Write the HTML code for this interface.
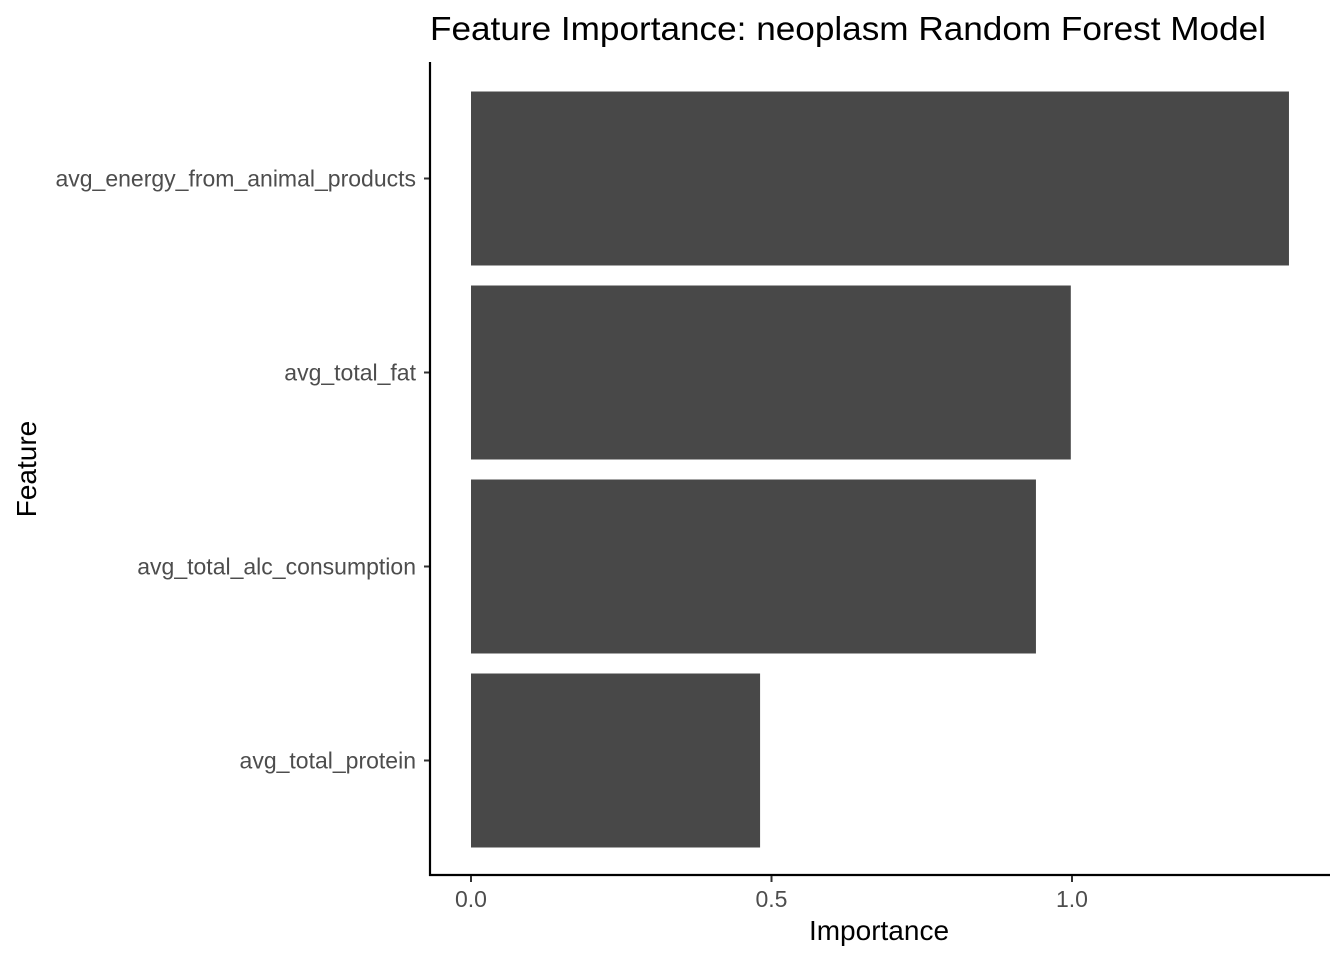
<!DOCTYPE html>
<html><head><meta charset="utf-8"><style>
html,body{margin:0;padding:0;background:#fff;}
svg{display:block;font-family:"Liberation Sans",Arial,sans-serif;}
</style></head><body>
<svg id="chart" width="1344" height="960" viewBox="0 0 1344 960">
<text x="430" y="40" font-size="33" textLength="836" lengthAdjust="spacingAndGlyphs" fill="#000">Feature Importance: neoplasm Random Forest Model</text>
<g id="bars"></g>
<g id="yaxis"></g>
<g id="xaxis"></g>
<text x="879" y="940" font-size="28" text-anchor="middle" fill="#000">Importance</text>
<text transform="translate(36,469) rotate(-90)" font-size="28" text-anchor="middle" fill="#000">Feature</text>
</svg>
<script>
const categories = ["avg_energy_from_animal_products","avg_total_fat","avg_total_alc_consumption","avg_total_protein"];
const importance = [1.361, 0.998, 0.940, 0.481];
const xTicks = [0, 0.5, 1.0];
const xTickLabels = ["0.0","0.5","1.0"];

const NS="http://www.w3.org/2000/svg";
const x0=471, xPerUnit=601;
const xs=v=>x0+v*xPerUnit;
const bandTop=81.5, band=194, barW=174;
const yc=i=>bandTop+band*i+band/2;
function mk(tag,attrs,parent){const e=document.createElementNS(NS,tag);for(const k in attrs)e.setAttribute(k,attrs[k]);parent.appendChild(e);return e;}
const gb=document.getElementById('bars'),gy=document.getElementById('yaxis'),gx=document.getElementById('xaxis');
categories.forEach((c,i)=>{
  const r=mk('rect',{x:xs(0),y:yc(i)-barW/2,width:xs(importance[i])-xs(0),height:barW,fill:'#484848'},gb);
  
  
  const t=mk('line',{x1:424,x2:430,y1:yc(i),y2:yc(i),stroke:'#333','stroke-width':2},gy);
  
  
  const l=mk('text',{x:416,y:yc(i)+8,'font-size':23,'text-anchor':'end',fill:'#4d4d4d'},gy);
  l.textContent=c;
  
  
});
const ya=mk('line',{x1:430,x2:430,y1:62,y2:876,stroke:'#000','stroke-width':2.2},gy);


const xa=mk('line',{x1:429,x2:1330,y1:875,y2:875,stroke:'#000','stroke-width':2.2},gx);


xTicks.forEach((v,i)=>{
  const t=mk('line',{x1:xs(v),x2:xs(v),y1:876,y2:882,stroke:'#333','stroke-width':2},gx);
  
  
  const l=mk('text',{x:xs(v),y:907,'font-size':23,'text-anchor':'middle',fill:'#4d4d4d'},gx);
  l.textContent=xTickLabels[i];
  
  
});
</script>
</body></html>
